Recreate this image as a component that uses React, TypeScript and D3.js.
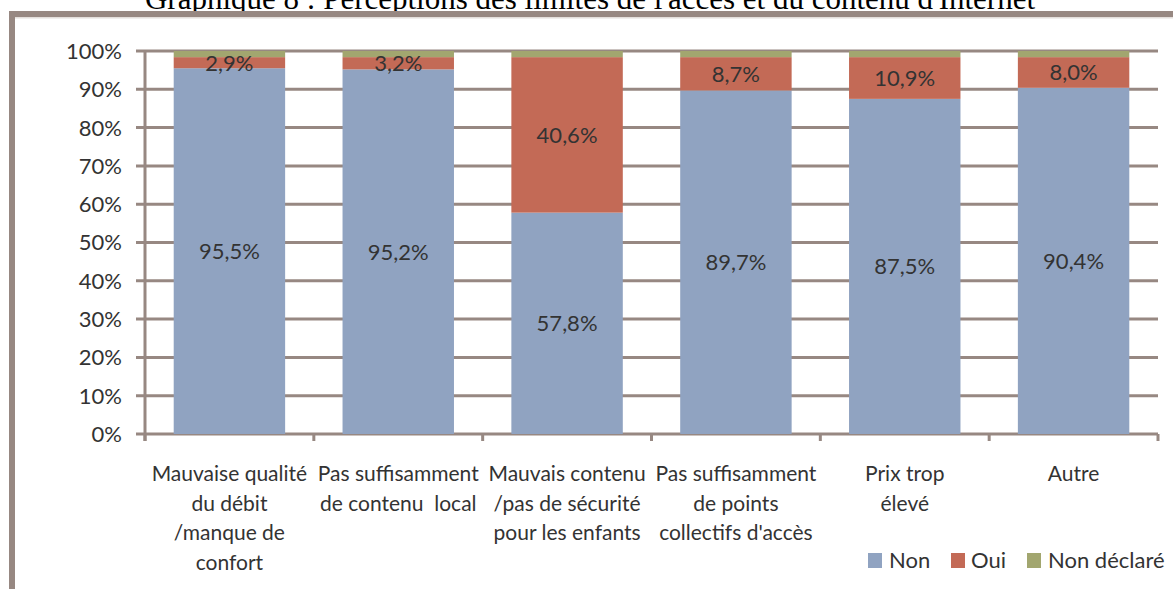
import React from "react";
import * as d3 from "d3";

const categories: string[][] = [
  ["Mauvaise qualité", "du débit", "/manque de", "confort"],
  ["Pas suffisamment", "de contenu  local"],
  ["Mauvais contenu", "/pas de sécurité", "pour les enfants"],
  ["Pas suffisamment", "de points", "collectifs d'accès"],
  ["Prix trop", "élevé"],
  ["Autre"],
];
const nonValues = [95.5, 95.2, 57.8, 89.7, 87.5, 90.4];
const ouiValues = [2.9, 3.2, 40.6, 8.7, 10.9, 8.0];
const nonDeclareValues = [1.6, 1.6, 1.6, 1.6, 1.6, 1.6];
const seriesNames = ["Non", "Oui", "Non déclaré"];
const seriesColors = ["#90a3c1", "#c36a56", "#a2a66f"];
const yTicks = [0, 10, 20, 30, 40, 50, 60, 70, 80, 90, 100];
const title = "Graphique 8 : Perceptions des limites de l'accès et du contenu d'Internet";

const W = 1173;
const H = 589;
const GRID = "#978882";
const TXT = "#333333";
const FONT = "Lato, 'Open Sans', sans-serif";

export default function App() {
  const keys = ["non", "oui", "nd"];
  const rows = categories.map((c, i) => ({
    idx: i,
    non: nonValues[i],
    oui: ouiValues[i],
    nd: nonDeclareValues[i],
  }));
  const stacked = d3.stack<any>().keys(keys)(rows);

  const x = d3
    .scaleBand<number>()
    .domain(rows.map((r) => r.idx))
    .range([145, 1158])
    .paddingInner(0.34)
    .paddingOuter(0.17);
  const y = d3.scaleLinear().domain([0, 100]).range([434, 51]);
  const step = x.step();
  const x0 = 145;
  const boundaries = d3.range(categories.length + 1).map((i) => x0 + i * step);

  const legendItems = [
    { sx: 868, tx: 889 },
    { sx: 951, tx: 971 },
    { sx: 1027, tx: 1048 },
  ];

  return (
    <svg
      width={W}
      height={H}
      style={{ position: "absolute", left: 0, top: 0, background: "#fff" }}
    >
      <rect x={0} y={0} width={W} height={H} fill="#fff" />
      {/* title */}
      <text
        x={590}
        y={9}
        textAnchor="middle"
        fontFamily="'Liberation Serif', 'Times New Roman', serif"
        fontSize={31}
        fill="#000"
      >
        {title}
      </text>
      {/* frame */}
      <rect x={9} y={11} width={W} height={6} fill="#978882" />
      <rect x={9} y={11} width={6} height={H} fill="#978882" />
      <rect x={15} y={17} width={W} height={1.5} fill="#e4dfdc" />

      {/* gridlines */}
      {yTicks.map((t) => (
        <line key={t} x1={136} x2={1158} y1={y(t)} y2={y(t)} stroke={GRID} strokeWidth={3} />
      ))}
      {/* y axis */}
      <line x1={145} x2={145} y1={y(100)} y2={441} stroke={GRID} strokeWidth={3} />
      {boundaries.map((b, i) => (
        <line key={i} x1={b} x2={b} y1={434} y2={441} stroke={GRID} strokeWidth={3} />
      ))}
      {yTicks.map((t) => (
        <text
          key={t}
          x={122}
          y={y(t)}
          dy="0.36em"
          textAnchor="end"
          fontFamily={FONT}
          fontSize={22}
          fill={TXT}
        >
          {t}%
        </text>
      ))}

      {/* bars */}
      {stacked.map((s, si) => (
        <g key={s.key}>
          {s.map((d: any, i: number) => (
            <rect
              key={i}
              x={x(i)!}
              y={y(d[1])}
              width={x.bandwidth()}
              height={y(d[0]) - y(d[1])}
              fill={seriesColors[si]}
            />
          ))}
        </g>
      ))}

      {/* data labels (Non, Oui) */}
      {stacked.slice(0, 2).map((s, si) =>
        s.map((d: any, i: number) => {
          const v = d[1] - d[0];
          return (
            <text
              key={`${si}-${i}`}
              x={x(i)! + x.bandwidth() / 2}
              y={y((d[0] + d[1]) / 2)}
              dy="0.36em"
              textAnchor="middle"
              fontFamily={FONT}
              fontSize={22}
              fill={TXT}
            >
              {d3.format(".1f")(v).replace(".", ",")}%
            </text>
          );
        })
      )}

      {/* category labels */}
      {categories.map((lines, i) => (
        <text
          key={i}
          x={x(i)! + x.bandwidth() / 2}
          y={481}
          textAnchor="middle"
          fontFamily={FONT}
          fontSize={21}
          fill={TXT}
        >
          {lines.map((l, j) => (
            <tspan key={j} x={x(i)! + x.bandwidth() / 2} y={481 + j * 29.5} style={{ whiteSpace: "pre" }}>
              {l}
            </tspan>
          ))}
        </text>
      ))}

      {/* legend */}
      {seriesNames.map((n, i) => (
        <g key={n}>
          <rect x={legendItems[i].sx} y={553} width={14} height={15} fill={seriesColors[i]} />
          <text x={legendItems[i].tx} y={568} fontFamily={FONT} fontSize={22} fill={TXT}>
            {n}
          </text>
        </g>
      ))}
    </svg>
  );
}
